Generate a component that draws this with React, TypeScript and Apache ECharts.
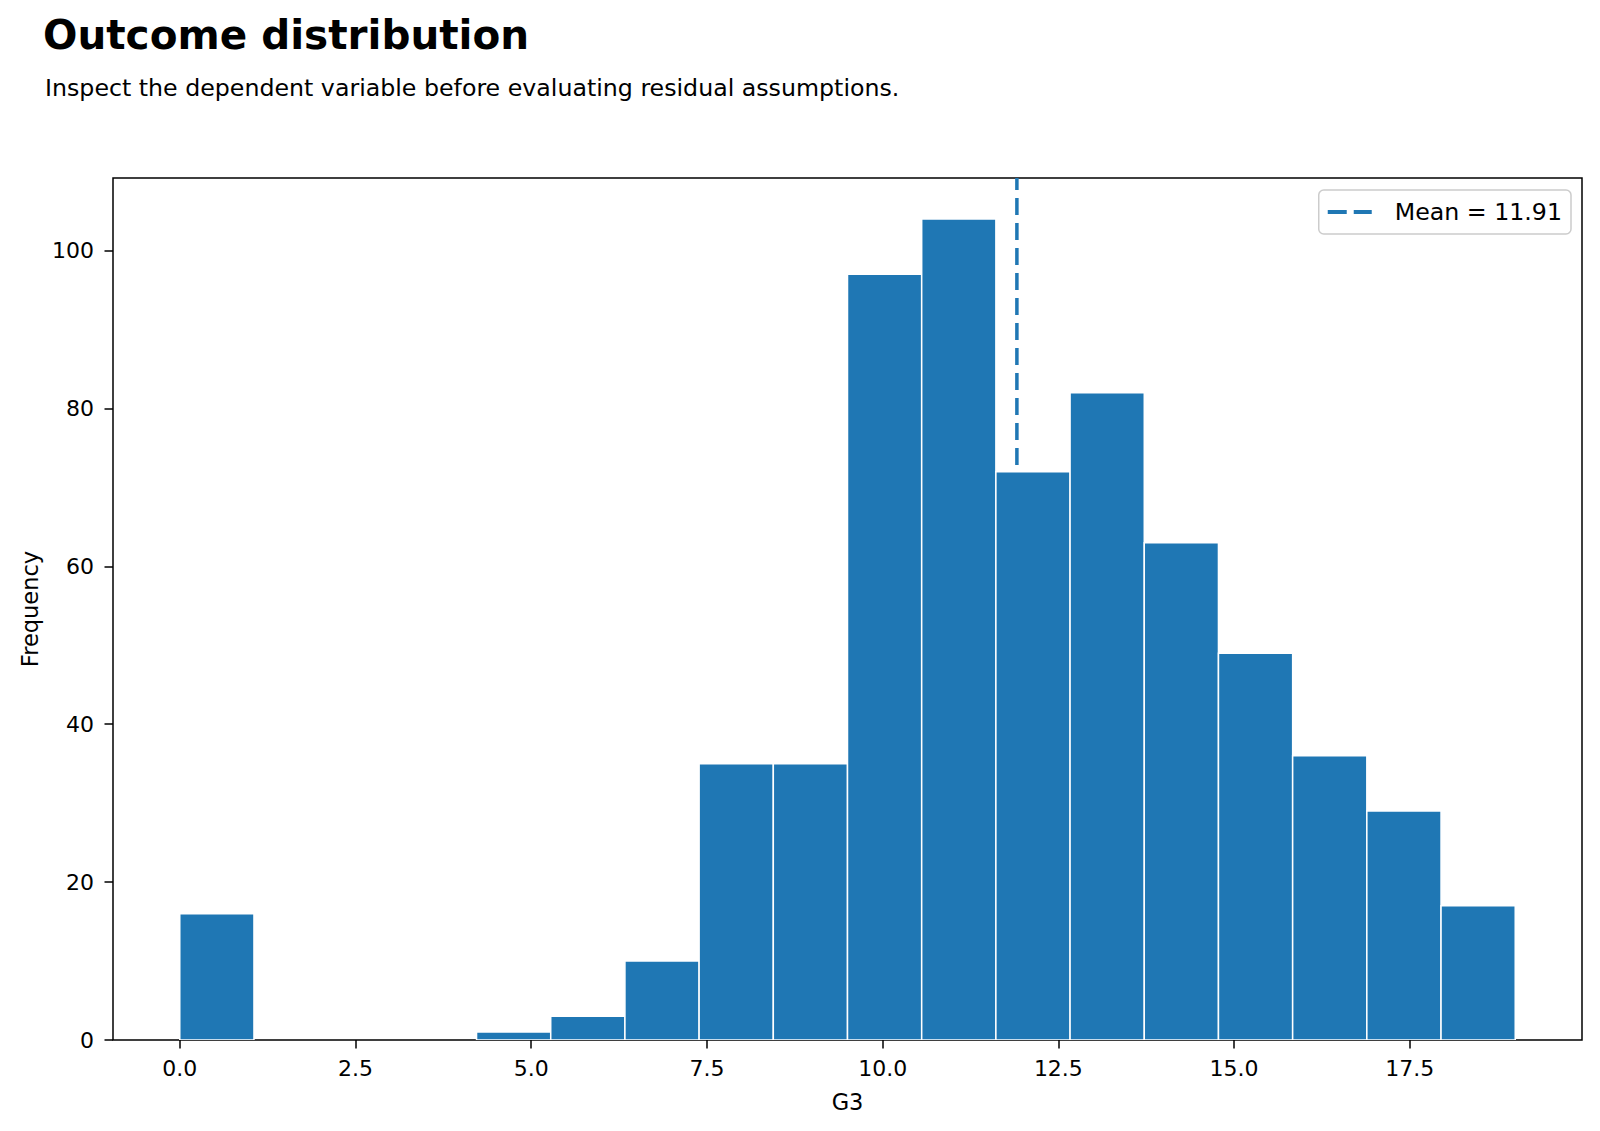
import React, { useEffect, useRef } from "react";
import * as echarts from "echarts";

// Histogram of final grade G3 (18 equal-width bins over the observed range)
const G3_RANGE = [0, 19];
const binCounts = [16, 0, 0, 0, 1, 3, 10, 35, 35, 97, 104, 72, 82, 63, 49, 36, 29, 17];
const G3_MEAN = 11.91;

const xTickValues = [0, 2.5, 5, 7.5, 10, 12.5, 15, 17.5];
const yTickValues = [0, 20, 40, 60, 80, 100];

const X_MIN = -0.95;
const X_MAX = 19.95;
const Y_MIN = 0;
const Y_MAX = 109.2;

const BLUE = "#1f77b4";
const FONT = "DejaVu Sans";

const binWidth = (G3_RANGE[1] - G3_RANGE[0]) / binCounts.length;
const histData = binCounts.map((count, i) => [
  G3_RANGE[0] + i * binWidth,
  G3_RANGE[0] + (i + 1) * binWidth,
  count,
]);

const meanLabel = `Mean = ${G3_MEAN.toFixed(2)}`;

export default function App() {
  const ref = useRef<HTMLDivElement>(null);

  useEffect(() => {
    if (!ref.current) return;
    const chart = echarts.init(ref.current, null, { renderer: "svg" });
    chart.setOption({
      animation: false,
      backgroundColor: "#ffffff",
      title: [
        {
          text: "Outcome distribution",
          left: 38,
          top: 9,
          textStyle: { fontFamily: FONT, fontSize: 40.5, fontWeight: "bold", color: "#000" },
        },
        {
          text: "Inspect the dependent variable before evaluating residual assumptions.",
          left: 40,
          top: 71,
          textStyle: { fontFamily: FONT, fontSize: 23.7, fontWeight: "normal", color: "#000" },
        },
      ],
      legend: {
        right: 29,
        top: 190,
        orient: "vertical",
        padding: [10, 9, 10, 9],
        borderColor: "#cccccc",
        borderWidth: 1.5,
        borderRadius: 5,
        backgroundColor: "#ffffff",
        itemWidth: 44,
        itemHeight: 4,
        textStyle: { fontFamily: FONT, fontSize: 23.7, color: "#000", padding: [0, 0, 0, 18] },
        data: [{ name: meanLabel, icon: "path://M0,0H19V4H0Z M26,0H44V4H26Z", itemStyle: { color: BLUE } }],
      },
      grid: {
        left: 113,
        right: 18,
        top: 178,
        bottom: 91,
        show: true,
        borderColor: "#000",
        borderWidth: 1.5,
        backgroundColor: "#fff",
      },
      xAxis: {
        type: "value",
        min: X_MIN,
        max: X_MAX,
        name: "G3",
        nameLocation: "middle",
        nameGap: 50,
        nameTextStyle: { fontFamily: FONT, fontSize: 22.5, color: "#000" },
        axisLine: { show: false, onZero: false },
        splitLine: { show: false },
        axisTick: {
          show: true,
          length: 8.5,
          lineStyle: { color: "#000", width: 1.5 },
          customValues: xTickValues,
        },
        axisLabel: {
          fontFamily: FONT,
          fontSize: 22,
          color: "#000",
          margin: 17,
          customValues: xTickValues,
          formatter: (v: number) => v.toFixed(1),
        },
      },
      yAxis: {
        type: "value",
        min: Y_MIN,
        max: Y_MAX,
        name: "Frequency",
        nameLocation: "middle",
        nameGap: 72,
        nameTextStyle: { fontFamily: FONT, fontSize: 22.5, color: "#000" },
        axisLine: { show: false, onZero: false },
        splitLine: { show: false },
        axisTick: {
          show: true,
          length: 8.5,
          lineStyle: { color: "#000", width: 1.5 },
          customValues: yTickValues,
        },
        axisLabel: {
          fontFamily: FONT,
          fontSize: 22,
          color: "#000",
          margin: 19,
          customValues: yTickValues,
          formatter: (v: number) => String(v),
        },
      },
      series: [
        {
          name: meanLabel,
          type: "line",
          z: 1,
          showSymbol: false,
          symbol: "none",
          color: BLUE,
          lineStyle: { color: BLUE, width: 3.5, type: [17, 8] },
          data: [
            [G3_MEAN, Y_MIN],
            [G3_MEAN, Y_MAX],
          ],
        },
        {
          name: "G3",
          type: "custom",
          z: 2,
          clip: true,
          encode: { x: [0, 1], y: 2 },
          data: histData,
          renderItem: (params: any, api: any) => {
            const x0 = api.value(0);
            const x1 = api.value(1);
            const count = api.value(2);
            if (!count) return null;
            const topLeft = api.coord([x0, count]);
            const bottomRight = api.coord([x1, 0]);
            return {
              type: "rect",
              shape: {
                x: topLeft[0],
                y: topLeft[1],
                width: bottomRight[0] - topLeft[0],
                height: bottomRight[1] - topLeft[1],
              },
              style: { fill: BLUE, stroke: "#ffffff", lineWidth: 1.5 },
            };
          },
        },
      ],
    });
    return () => chart.dispose();
  }, []);

  return (
    <div
      ref={ref}
      style={{ position: "absolute", left: 0, top: 0, width: 1600, height: 1131 }}
    />
  );
}
